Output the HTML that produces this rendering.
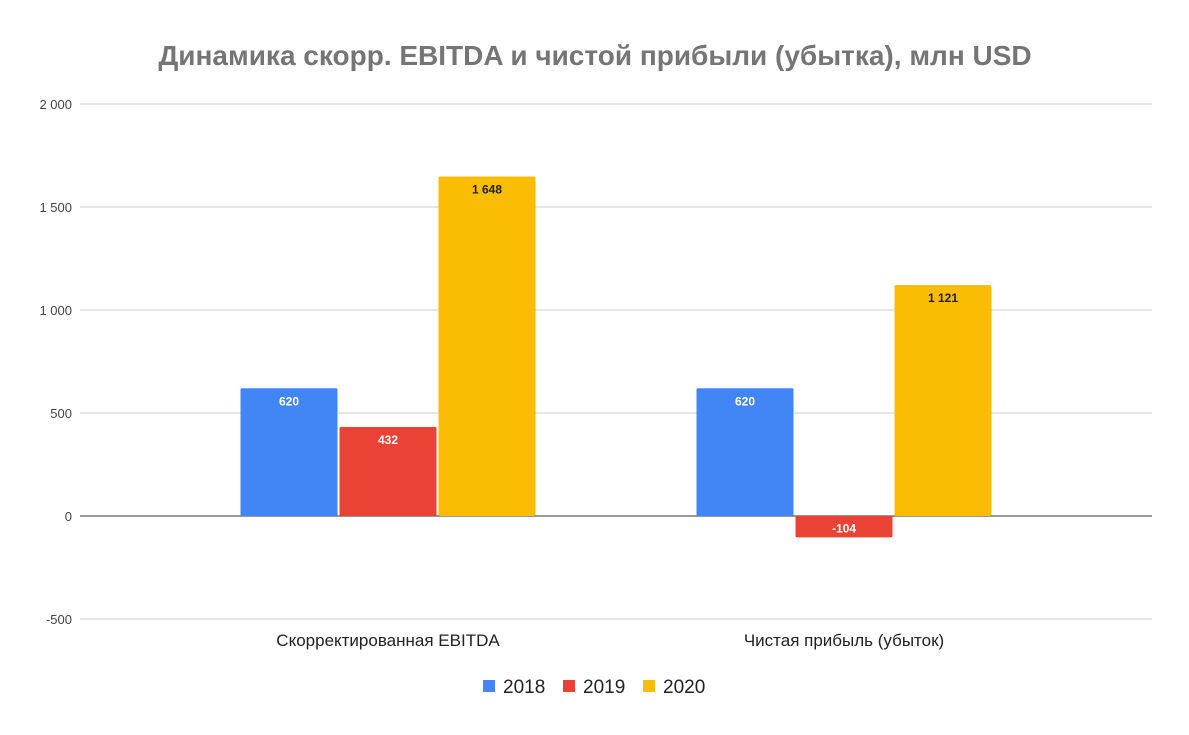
<!DOCTYPE html>
<html><head><meta charset="utf-8"><style>
body{margin:0;background:#fff;}
svg{display:block;font-family:"Liberation Sans",Arial,sans-serif;}
</style></head><body>
<svg id="c" width="1189" height="735">
<rect width="1189" height="735" fill="#fff"/>
<text x="595" y="65" text-anchor="middle" font-size="28" font-weight="bold" fill="#757575">Динамика скорр. EBITDA и чистой прибыли (убытка), млн USD</text>
<g id="grid"></g><g id="bars"></g><g id="labels"></g>
<g font-size="19" fill="#222">
<rect x="483" y="680" width="12" height="12" fill="#4285f4"/><text x="503" y="693">2018</text>
<rect x="563" y="680" width="12" height="12" fill="#ea4335"/><text x="583" y="693">2019</text>
<rect x="643" y="680" width="12" height="12" fill="#fbbc04"/><text x="663" y="693">2020</text>
</g>
</svg>
<script>
const categories=["Скорректированная EBITDA","Чистая прибыль (убыток)"];
const seriesNames=["2018","2019","2020"];
const s2018=[620,620];
const s2019=[432,-104];
const s2020=[1648,1121];
const ticks=[-500,0,500,1000,1500,2000];
const tickLabels=["-500","0","500","1 000","1 500","2 000"];
const colors=["#4285f4","#ea4335","#fbbc04"];
const series=[s2018,s2019,s2020];
const NS="http://www.w3.org/2000/svg";
const y=v=>516-v*103/500;
const xc=i=>388+i*456;
function mk(t,a,p){const e=document.createElementNS(NS,t);for(const k in a)e.setAttribute(k,a[k]);p.appendChild(e);return e;}
const grid=document.getElementById('grid'),bars=document.getElementById('bars'),labels=document.getElementById('labels');
ticks.forEach((t,i)=>{
 const l=mk('line',{x1:80,x2:1152,y1:y(t),y2:y(t),stroke:t===0?'#333':'#ccc','stroke-width':1},grid);
 
 
 const tx=mk('text',{x:72,y:y(t)+5,'text-anchor':'end','font-size':13,fill:'#444'},grid);
 tx.textContent=tickLabels[i];
 
 
});
categories.forEach((c,ci)=>{
 const tx=mk('text',{x:xc(ci),y:646,'text-anchor':'middle','font-size':17,fill:'#222'},labels);
 tx.textContent=c;
 
 
 series.forEach((s,si)=>{
  const v=s[ci];const x0=xc(ci)-147.5+si*99;
  const top=Math.min(y(v),y(0)),h=Math.abs(y(v)-y(0));
  const r=mk('rect',{x:x0,y:top,width:97,height:h,fill:colors[si],rx:1.5},bars);
  
  
  const lt=mk('text',{x:x0+48.5,y:v>=0?top+17:top+h-5,'text-anchor':'middle','font-size':12,'font-weight':'bold',fill:si===2?'#222':'#fff'},labels);
  lt.textContent=(v<0?'-':'')+Math.abs(v).toLocaleString('en-US').replace(',',' ');
  
  
 });
});
</script>
</body></html>
